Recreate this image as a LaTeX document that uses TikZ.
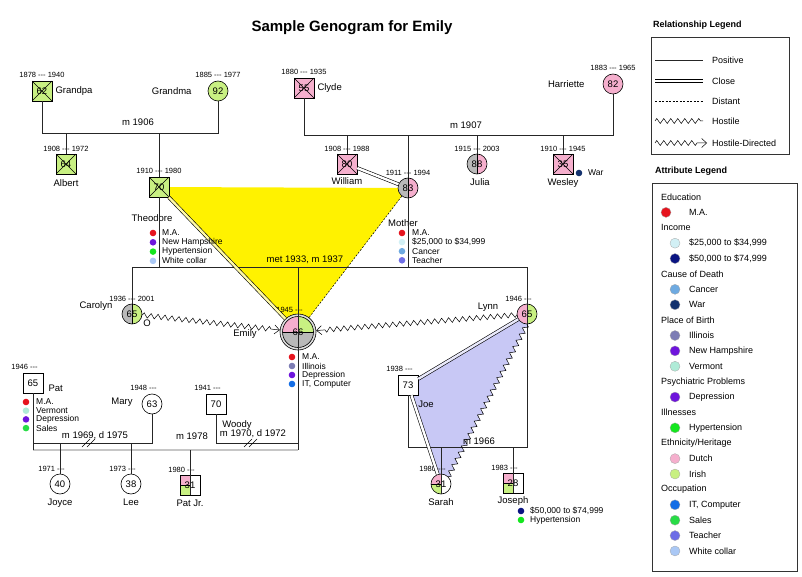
\documentclass[tikz,border=0pt]{standalone}
\usepackage{fontspec}
\setmainfont{Liberation Sans}
\usetikzlibrary{positioning,decorations.pathmorphing,arrows.meta,backgrounds}

\definecolor{edured}{RGB}{230,20,30}
\definecolor{incLow}{RGB}{210,240,245}
\definecolor{incHigh}{RGB}{10,20,130}
\definecolor{cancer}{RGB}{110,170,225}
\definecolor{war}{RGB}{20,50,110}
\definecolor{illinois}{RGB}{125,125,180}
\definecolor{newhamp}{RGB}{110,20,220}
\definecolor{vermont}{RGB}{175,235,215}
\definecolor{depress}{RGB}{110,20,220}
\definecolor{hypert}{RGB}{20,230,30}
\definecolor{dutch}{RGB}{245,175,205}
\definecolor{irish}{RGB}{200,240,130}
\definecolor{itcomp}{RGB}{20,110,230}
\definecolor{sales}{RGB}{40,220,70}
\definecolor{teacher}{RGB}{110,110,230}
\definecolor{whitecol}{RGB}{170,200,245}
\definecolor{lav}{RGB}{200,200,245}
\definecolor{nodegray}{RGB}{185,185,185}

\newcommand\life[2]{#1 -{}-{}- #2}

\tikzstyle{person}=[draw, 
                    fill=white,
                    inner sep=0pt,
                    line width=0.6pt,
                    minimum size=20pt,
                    font=\fontsize{9.5}{11}\selectfont]
\tikzstyle{male}=[person, rectangle]
\tikzstyle{female}=[person, circle]
\tikzstyle{rel}=[line width=0.7pt, black!85]
\tikzstyle{closerel}=[line width=0.6pt, double=white, double distance=2.4pt]
\tikzstyle{distant}=[line width=0.5pt, dash pattern=on 2pt off 1.5pt]
\tikzstyle{zz}=[decoration={zigzag, amplitude=2.5pt, segment length=7pt}]
\tikzstyle{hostile}=[line width=0.5pt, zz, decorate]
\tikzstyle{hostiledir}=[line width=0.5pt, decorate,
                        decoration={zigzag, amplitude=2.5pt, segment length=7pt, post length=8pt},
                        -{Straight Barb[length=5pt, width=9pt]}]
\tikzstyle{dates}=[inner sep=1pt, font=\fontsize{7.5}{8}\selectfont]
\tikzstyle{born}=[dates, xshift=-8.5pt]
\tikzstyle{who}=[inner sep=1pt, font=\fontsize{9.5}{11}\selectfont]
\tikzstyle{marr}=[inner sep=1pt, font=\fontsize{9.5}{11}\selectfont]
\tikzstyle{attrtext}=[anchor=west, inner sep=0pt, font=\fontsize{8.5}{9}\selectfont]
\tikzstyle{legtext}=[anchor=west, inner sep=0pt, font=\fontsize{9}{10}\selectfont]
\tikzstyle{legtitle}=[anchor=west, inner sep=0pt, font=\fontsize{9}{10}\selectfont\bfseries]

\tikzset{
  dead/.style={path picture={
      \draw[line width=0.4pt] (path picture bounding box.north west) -- (path picture bounding box.south east)
                              (path picture bounding box.north east) -- (path picture bounding box.south west);}},
  halves/.style 2 args={path picture={
      \fill[#1] (path picture bounding box.south west) rectangle (path picture bounding box.north);
      \fill[#2] (path picture bounding box.south) rectangle (path picture bounding box.north east);
      \draw[line width=0.4pt] (path picture bounding box.north) -- (path picture bounding box.south);}},
  kid/.style={path picture={
      \fill[dutch] (path picture bounding box.north west) rectangle (path picture bounding box.center);
      \fill[irish] (path picture bounding box.west) rectangle (path picture bounding box.south);
      \draw[line width=0.4pt] (path picture bounding box.west) -- (path picture bounding box.center);}},
  ego/.style={person, circle, minimum size=36pt, fill=gray!25, path picture={
      \begin{scope}
        \clip (path picture bounding box.center) circle (15.5pt);
        \fill[nodegray] (path picture bounding box.center) circle (15.5pt);
        \fill[dutch] (path picture bounding box.center) rectangle ++(-16pt,16pt);
        \fill[irish] (path picture bounding box.center) rectangle ++(16pt,16pt);
        \draw[line width=0.4pt] ([xshift=-16pt]path picture bounding box.center) -- ++(32pt,0pt);
      \end{scope}
      \draw[line width=0.6pt] (path picture bounding box.center) circle (15.5pt);}},
  divorce/.pic={\draw[line width=0.6pt] (-8,4) -- (0,-4) (-3,4) -- (5,-4);}
}

\begin{document}
\begin{tikzpicture}[x=1pt, y=-1pt]
    \useasboundingbox (0,0) rectangle (802,577);

    \node[font=\fontsize{15}{18}\selectfont\bfseries] (title) at (352,28) {Sample Genogram for Emily};

    % grandparents
    \node[male, dead, fill=irish] (grandpa) at (42,91) {62};
    \node[female, fill=irish] (grandma) at (218,91) {92};
    \node[male, dead, fill=dutch] (clyde) at (304,88) {55};
    \node[female, fill=dutch] (harriette) at (613,84) {82};

    % their children
    \node[male, dead, fill=irish] (albert) at (66,164) {64};
    \node[male, dead, fill=irish] (theo) at (159,187) {70};
    \node[male, dead, fill=dutch] (william) at (347,164) {80};
    \node[female, halves={nodegray}{dutch}] (mother) at (408,188) {83};
    \node[female, halves={nodegray}{dutch}] (julia) at (477,164) {88};
    \node[male, dead, fill=dutch] (wesley) at (563,164) {35};

    % Emily and her sisters, with partners
    \node[female, halves={nodegray}{irish}] (carolyn) at (132,314) {65};
    \node[ego] (emily) at (298,332) {66};
    \node[female, halves={dutch}{irish}] (lynn) at (527,314) {65};
    \node[male] (pat) at (33,383) {65};
    \node[female] (mary) at (152,404) {63};
    \node[male] (woody) at (216,404) {70};
    \node[male] (joe) at (408,385) {73};

    % youngest generation
    \node[female] (joyce) at (60,484) {40};
    \node[female] (lee) at (131,484) {38};
    \node[male, kid] (patjr) at (190,485) {31};
    \node[female, kid] (sarah) at (441,484) {31};
    \node[male, kid] (joseph) at (513,483) {28};

    % dates
    \node[dates, above=1.5pt of grandpa] (grandpa-d) {\life{1878}{1940}};
    \node[dates, above=1.5pt of grandma] (grandma-d) {\life{1885}{1977}};
    \node[dates, above=1.5pt of clyde] (clyde-d) {\life{1880}{1935}};
    \node[dates, above=1.5pt of harriette] (harriette-d) {\life{1883}{1965}};
    \node[dates, above=1pt of albert] (albert-d) {\life{1908}{1972}};
    \node[dates, above=1.5pt of theo] (theo-d) {\life{1910}{1980}};
    \node[dates, above=1pt of william] (william-d) {\life{1908}{1988}};
    \node[dates, above=1pt of mother] (mother-d) {\life{1911}{1994}};
    \node[dates, above=1pt of julia] (julia-d) {\life{1915}{2003}};
    \node[dates, above=1pt of wesley] (wesley-d) {\life{1910}{1945}};
    \node[dates, above=1pt of carolyn] (carolyn-d) {\life{1936}{2001}};
    \node[born, above=0pt of emily] (emily-d) {\life{1945}{}};
    \node[born, above=0.5pt of lynn] (lynn-d) {\life{1946}{}};
    \node[born, above=1.5pt of pat] (pat-d) {\life{1946}{}};
    \node[born, above=1.5pt of mary] (mary-d) {\life{1948}{}};
    \node[born, above=1.5pt of woody] (woody-d) {\life{1941}{}};
    \node[born, above=1.5pt of joe] (joe-d) {\life{1938}{}};
    \node[born, above=1pt of joyce] (joyce-d) {\life{1971}{}};
    \node[born, above=1pt of lee] (lee-d) {\life{1973}{}};
    \node[born, above=1pt of patjr] (patjr-d) {\life{1980}{}};
    \node[born, above=1pt of sarah] (sarah-d) {\life{1980}{}};
    \node[born, above=1pt of joseph] (joseph-d) {\life{1983}{}};

    % names
    \node[who, right=2pt of grandpa] (grandpa-n) {Grandpa};
    \node[who, left=15pt of grandma] (grandma-n) {Grandma};
    \node[who, right=2pt of clyde] (clyde-n) {Clyde};
    \node[who, left=17pt of harriette] (harriette-n) {Harriette};
    \node[who, below=4pt of albert] (albert-n) {Albert};
    \node[who] (theo-n) at (152,218) {Theodore};
    \node[who, below=2pt of william] (william-n) {William};
    \node[who] (mother-n) at (403,223) {Mother};
    \node[who, below=3pt of julia, xshift=3pt] (julia-n) {Julia};
    \node[who, below=3pt of wesley] (wesley-n) {Wesley};
    \node[who] (carolyn-n) at (96,306) {Carolyn};
    \node[who] (carolyn-o) at (147,323) {O};
    \node[who] (emily-n) at (245,334) {Emily};
    \node[who] (lynn-n) at (488,307) {Lynn};
    \node[who, right=4pt of pat, yshift=-5pt] (pat-n) {Pat};
    \node[who] (mary-n) at (122,402) {Mary};
    \node[who] (woody-n) at (237,425) {Woody};
    \node[who] (joe-n) at (426,404) {Joe};
    \node[who, below=3pt of joyce] (joyce-n) {Joyce};
    \node[who, below=3pt of lee] (lee-n) {Lee};
    \node[who, below=3pt of patjr] (patjr-n) {Pat Jr.};
    \node[who, below=3pt of sarah] (sarah-n) {Sarah};
    \node[who, below=2pt of joseph] (joseph-n) {Joseph};

    % marriages
    \node[marr] (m1906) at (138,122) {m 1906};
    \node[marr] (m1907) at (466,125) {m 1907};
    \node[marr] (m1937) at (305,260) {met 1933, m 1937};
    \node[marr] (m1969) at (95,436) {m 1969, d 1975};
    \node[marr] (m1978) at (192,436) {m 1978};
    \node[marr] (m1970) at (253,434) {m 1970, d 1972};
    \node[marr] (m1966) at (479,441) {m 1966};

    \coordinate (gpbar) at (0,133);
    \coordinate (clbar) at (0,135);
    \coordinate (tmbar) at (0,267);
    \coordinate (pmbar) at (0,443);
    \coordinate (ljbar) at (0,447);
    \coordinate (pebar) at (0,450);

    \draw[rel] (grandpa.south) -- (grandpa |- gpbar) -- (grandma |- gpbar) -- (grandma.south);
    \draw[rel] (albert.north) -- (albert |- gpbar);
    \draw[rel] (theo.north) -- (theo |- gpbar);
    \draw[rel] (clyde.south) -- (clyde |- clbar) -- (harriette |- clbar) -- (harriette.south);
    \draw[rel] (william.north) -- (william |- clbar);
    \draw[rel] (mother.north) -- (mother |- clbar);
    \draw[rel] (julia.north) -- (julia |- clbar);
    \draw[rel] (wesley.north) -- (wesley |- clbar);

    \draw[rel] (theo.south) -- (theo |- tmbar);
    \draw[rel] (mother.south) -- (mother |- tmbar);
    \draw[rel] (carolyn.north) -- (carolyn |- tmbar) -- (lynn |- tmbar) -- (lynn |- ljbar)
               -- (joe |- ljbar) -- (joe.south);
    \draw[rel] (emily |- tmbar) -- (emily |- pebar);

    \draw[rel, gray!45, line width=1.2pt] (pat |- pebar) -- (emily |- pebar);
    \draw[rel] (pat.south) -- (pat |- pebar);
    \draw[rel] (pat |- pmbar) -- (mary |- pmbar) -- (mary.south);
    \draw[rel] (woody.south) -- (woody |- pmbar) -- (emily |- pmbar);
    \pic at (90,443) {divorce};
    \pic at (252,443) {divorce};

    \draw[rel] (joyce.north) -- (joyce |- pmbar);
    \draw[rel] (lee.north) -- (lee |- pmbar);
    \draw[rel] (patjr.south) -- (patjr |- pebar);
    \draw[rel] (sarah.south) -- (sarah |- ljbar);
    \draw[rel] (joseph.south) -- (joseph |- ljbar);

    % relationships
    \begin{scope}[on background layer]
        \fill[yellow] (theo.center) -- (mother.center) -- (emily.center) -- cycle;
        \fill[lav] (joe.center) -- (lynn.center) -- (lynn.south)
            decorate[zz]{-- (sarah.north east)} -- (sarah.center) -- cycle;
    \end{scope}
    \draw[closerel, double=yellow!35] (theo) -- (emily);
    \draw[closerel] (william) -- (mother);
    \draw[distant] (mother) -- (emily);
    \draw[hostiledir] (carolyn) -- (emily);
    \draw[hostiledir] (lynn) -- (emily);
    \draw[closerel, double=lav!40] (lynn) -- (joe);
    \draw[closerel] (joe) -- (sarah);
    \draw[hostile] (lynn.south) -- (sarah.north east);

    % attributes
    \foreach \c/\t [count=\i from 0] in {edured/M.A., newhamp/New Hampshire, hypert/Hypertension, whitecol/White collar}
    {
        \fill[fill=\c] (153,{233+9.3*\i}) circle (3.3pt);
        \node[attrtext] (theo-a\i) at (162,{233+9.3*\i}) {\t};
    }
    \foreach \c/\t [count=\i from 0] in {edured/M.A., incLow/{\$25,000 to \$34,999}, cancer/Cancer, teacher/Teacher}
    {
        \fill[fill=\c] (402,{233+9.1*\i}) circle (3.3pt);
        \node[attrtext] (mother-a\i) at (412,{233+9.1*\i}) {\t};
    }
    \foreach \c/\t [count=\i from 0] in {edured/M.A., illinois/Illinois, depress/Depression, itcomp/{IT, Computer}}
    {
        \fill[fill=\c] (292,{357+9*\i}) circle (3.3pt);
        \node[attrtext] (emily-a\i) at (302,{357+9*\i}) {\t};
    }
    \foreach \c/\t [count=\i from 0] in {edured/M.A., vermont/Vermont, depress/Depression, sales/Sales}
    {
        \fill[fill=\c] (26,{402+8.7*\i}) circle (3.3pt);
        \node[attrtext] (pat-a\i) at (36,{402+8.7*\i}) {\t};
    }
    \foreach \c/\t [count=\i from 0] in {incHigh/{\$50,000 to \$74,999}, hypert/Hypertension}
    {
        \fill[fill=\c] (521,{511+9*\i}) circle (3.3pt);
        \node[attrtext] (joseph-a\i) at (530,{511+9*\i}) {\t};
    }
    \fill[war] (579,173) circle (3.3pt);
    \node[attrtext] (wesley-a0) at (588,173) {War};

    % relationship legend
    \node[legtitle] (rl-title) at (653,25) {Relationship Legend};
    \draw[line width=0.6pt, black!80] (651,37) rectangle (789,154);
    \node[legtext] (rl-pos) at (712,60) {Positive};
    \node[legtext] (rl-close) at (712,81) {Close};
    \node[legtext] (rl-dist) at (712,101) {Distant};
    \node[legtext] (rl-host) at (712,121) {Hostile};
    \node[legtext] (rl-hdir) at (712,143) {Hostile-Directed};
    \draw[rel] ([xshift=-57pt]rl-pos.west) -- ([xshift=-9pt]rl-pos.west);
    \draw[closerel] ([xshift=-57pt]rl-close.west) -- ([xshift=-9pt]rl-close.west);
    \draw[distant] ([xshift=-57pt]rl-dist.west) -- ([xshift=-9pt]rl-dist.west);
    \draw[hostile] ([xshift=-57pt]rl-host.west) -- ([xshift=-9pt]rl-host.west);
    \draw[hostiledir] ([xshift=-57pt]rl-hdir.west) -- ([xshift=-5pt]rl-hdir.west);

    % attribute legend
    \node[legtitle] (al-title) at (655,171) {Attribute Legend};
    \draw[line width=0.6pt, black!80] (652,183) rectangle (797,571);
    \foreach \i/\t in {0/Education, 2/Income, 5/Cause of Death, 8/Place of Birth,
                       12/Psychiatric Problems, 14/Illnesses, 16/{Ethnicity/Heritage}, 19/Occupation}
        \node[legtext] (cat\i) at (661,{197+15.39*\i}) {\t};
    \foreach \i/\c/\t in {1/edured/M.A., 3/incLow/{\$25,000 to \$34,999}, 4/incHigh/{\$50,000 to \$74,999},
                          6/cancer/Cancer, 7/war/War, 9/illinois/Illinois, 10/newhamp/New Hampshire,
                          11/vermont/Vermont, 13/depress/Depression, 15/hypert/Hypertension,
                          17/dutch/Dutch, 18/irish/Irish, 20/itcomp/{IT, Computer}, 21/sales/Sales,
                          22/teacher/Teacher, 23/whitecol/White collar}
    {
        \filldraw[fill=\c, draw=black!35, line width=0.3pt] ({\i==1 ? 666 : 675},{197+15.39*\i}) circle (5pt);
        \node[legtext] (item\i) at (689,{197+15.39*\i}) {\t};
    }
\end{tikzpicture}
\end{document}
